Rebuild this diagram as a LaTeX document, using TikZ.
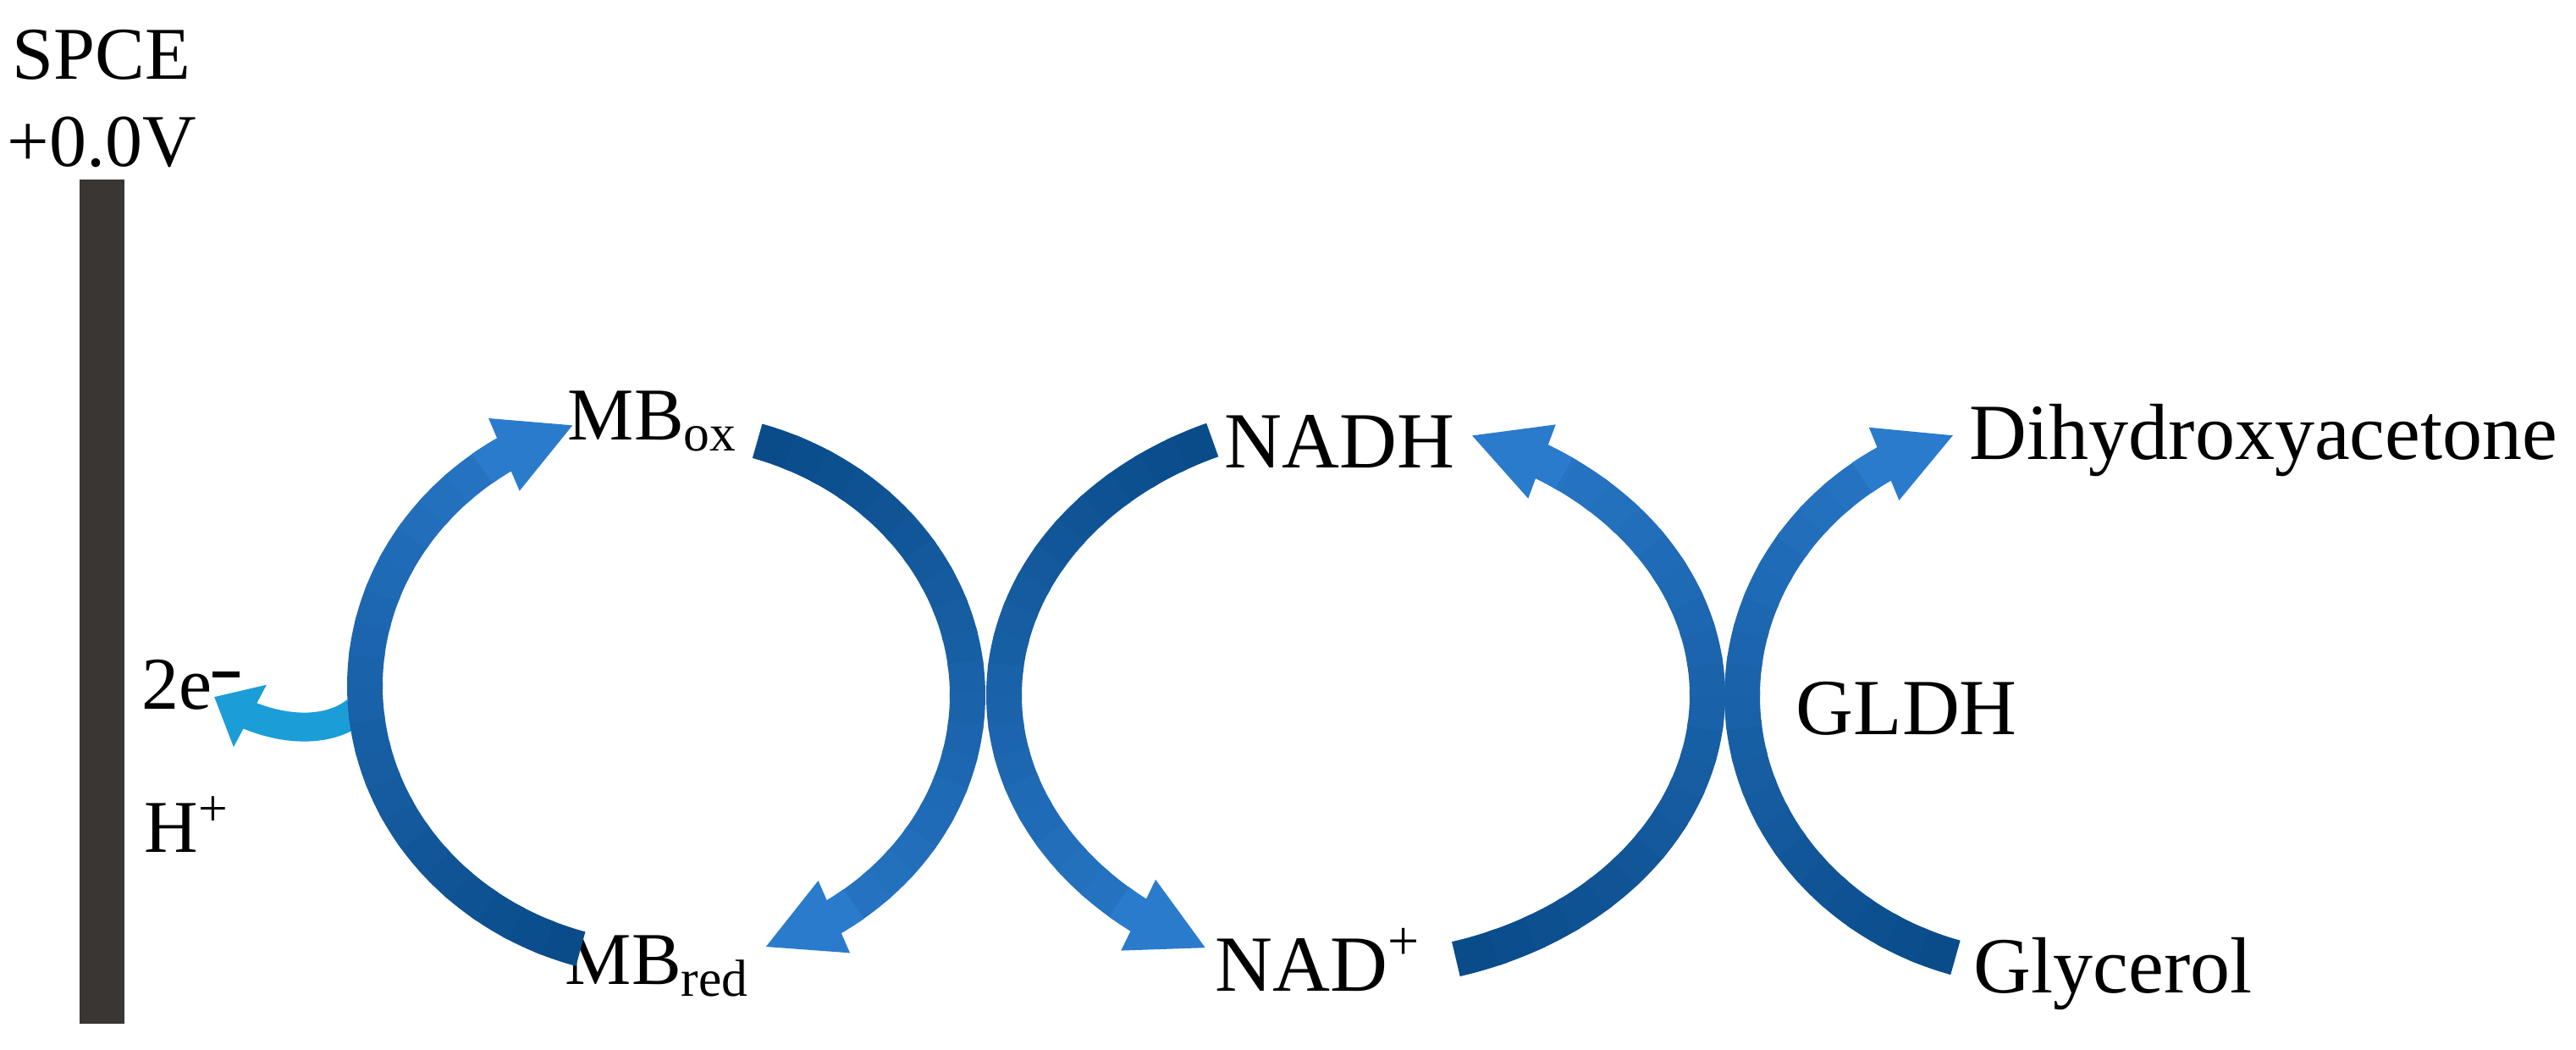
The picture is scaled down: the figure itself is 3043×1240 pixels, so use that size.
\documentclass[tikz,border=0pt]{standalone}
\usepackage{fontspec}
\setmainfont{Liberation Serif}
\usepackage{tikz}
\usetikzlibrary{arrows.meta,bending}

\definecolor{cycdark}{RGB}{10,76,138}
\definecolor{cyclight}{RGB}{43,123,205}
\definecolor{elblue}{RGB}{27,157,216}
\definecolor{spcegray}{RGB}{58,54,52}

\begin{document}
\begin{tikzpicture}[x=0.25pt,y=0.25pt,yscale=-1,
  lbl/.style={inner sep=0pt,font=\fontsize{22}{26}\selectfont},
  biglbl/.style={inner sep=0pt,font=\fontsize{23.5}{28}\selectfont},
  cycarc/.style={line width=10.5pt},
  cychead/.style={line width=10.5pt,draw=cyclight,-{Triangle[length=22.5pt,width=21.5pt]}}]
\useasboundingbox (0,0) rectangle (3043,1240);

%Shape: electrode
\fill[spcegray] (94,212) rectangle (147,1209);

% Text Node
\node[lbl,anchor=base] (spce) at (120,94) {SPCE};
% Text Node
\node[lbl,anchor=base] (volt) at (120,197) {+0.0V};
% Text Node
\node[lbl,anchor=base west] (elec) at (167,837) {2e\textsuperscript{\rule[0.12em]{0.52em}{0.1em}}};
% Text Node
\node[lbl,anchor=base west] (prot) at (170,1006) {H\textsuperscript{+}};
% Text Node
\node[lbl,anchor=base west] (mbox) at (670,520) {MB\textsubscript{ox}};
% Text Node
\node[lbl,anchor=base west] (mbred) at (667,1162) {MB\textsubscript{red}};
% Text Node
\node[biglbl,anchor=base west] (nadh) at (1446,553) {NADH};
% Text Node
\node[biglbl,anchor=base west] (nadp) at (1435,1170) {NAD\textsuperscript{+}};
% Text Node
\node[biglbl,anchor=base west] (gldh) at (2121,867) {GLDH};
% Text Node
\node[biglbl,anchor=base west] (dha) at (2326,543) {Dihydroxyacetone};
% Text Node
\node[biglbl,anchor=base west] (glyc) at (2331,1172) {Glycerol};

%Curve Lines: electrons to the electrode
\coordinate (eout) at (420,840);
\coordinate (etip) at (253,823);
\draw[elblue,line width=8.5pt,-{Triangle[length=12pt,width=20pt]}] (eout) .. controls (385,868) and (318,866) .. (etip);

%Curve Lines: the three cycles (centre x/y, radii, tail, body end, tip)
\foreach \cx/\cy/\ra/\rb/\ts/\te/\tt in {787/810/356/324/106.5/239/252.2,
    787/821/356/315/-72.4/58/71,
    1601/821/415/330/246/126.5/115,
    1602/821/415/325/73.5/-59.5/-71,
    2414/822/356/323/107/239.6/252.8}{
  \foreach \k [evaluate=\k as \ta using \ts+((\te)-(\ts))*\k/20,
               evaluate=\k as \tb using \ts+((\te)-(\ts))*(\k+1.2)/20,
               evaluate=\k as \pc using int(\k*4.5)] in {0,...,19}
    \draw[cycarc,draw=cyclight!\pc!cycdark] (\cx,\cy) ++({\ta}:{\ra} and {\rb})
      arc[start angle=\ta,end angle=\tb,x radius=\ra,y radius=\rb];
  \pgfmathsetmacro{\tz}{\te-0.5*((\tt)-(\te))}
  \draw[cychead] (\cx,\cy) ++({\tz}:{\ra} and {\rb})
    arc[start angle=\tz,end angle=\tt,x radius=\ra,y radius=\rb];
}

\end{tikzpicture}
\end{document}
